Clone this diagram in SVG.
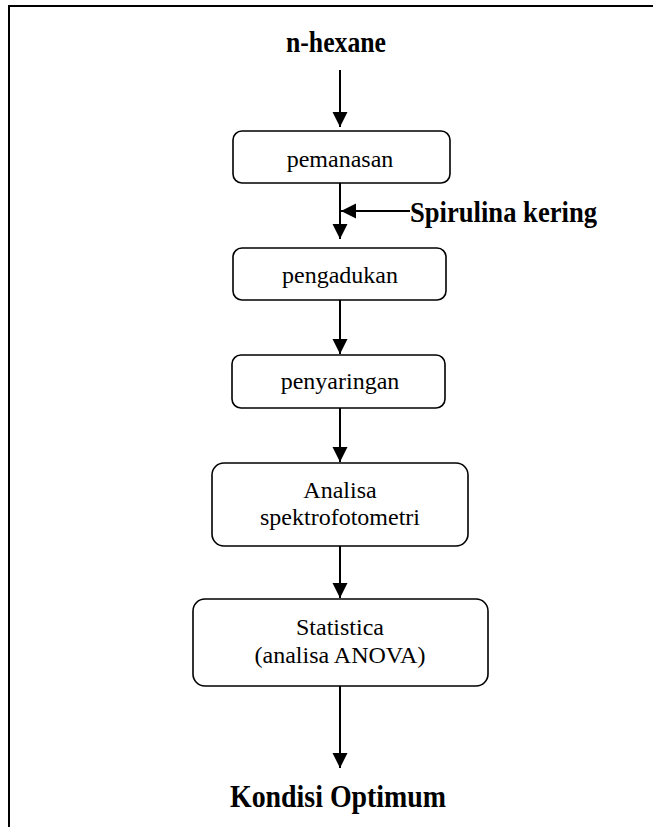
<svg xmlns="http://www.w3.org/2000/svg" width="653" height="827" viewBox="0 0 653 827">
<defs>
<marker id="ah" markerUnits="userSpaceOnUse" markerWidth="16" markerHeight="16" viewBox="0 0 16 16" refX="15" refY="8" orient="auto">
<path d="M0,0.5 L15,8 L0,15.5 Z" fill="#000"/>
</marker>
<style>
.box{fill:#fff;stroke:#000;stroke-width:1.6}
.t{font-family:"Liberation Serif","Times New Roman",serif;font-size:24px;fill:#000;text-anchor:middle}
.b{font-family:"Liberation Serif","Times New Roman",serif;font-weight:bold;fill:#000;text-anchor:middle}
.c{stroke:#000;stroke-width:2;fill:none;marker-end:url(#ah)}
</style>
</defs>
<rect x="9" y="6" width="660" height="840" fill="#fff" stroke="#000" stroke-width="2"/>
<g id="n-hexane"><text class="b" x="336" y="52" font-size="30" textLength="100" lengthAdjust="spacingAndGlyphs">n-hexane</text></g>
<g id="pemanasan"><rect class="box" x="233" y="131" width="217" height="52" rx="9"/><text class="t" x="340" y="167">pemanasan</text></g>
<g id="spirulina"><text class="b" x="503.5" y="222" font-size="29" textLength="187" lengthAdjust="spacingAndGlyphs">Spirulina kering</text></g>
<g id="pengadukan"><rect class="box" x="233" y="248" width="213" height="52" rx="9"/><text class="t" x="340" y="283">pengadukan</text></g>
<g id="penyaringan"><rect class="box" x="232" y="355" width="213" height="53" rx="9"/><text class="t" x="340" y="389">penyaringan</text></g>
<g id="analisa"><rect class="box" x="212" y="463" width="256" height="83" rx="12"/><text class="t" x="340" y="498">Analisa</text><text class="t" x="340" y="525">spektrofotometri</text></g>
<g id="statistica"><rect class="box" x="193" y="599" width="295" height="87" rx="12"/><text class="t" x="340" y="635">Statistica</text><text class="t" x="340" y="663">(analisa ANOVA)</text></g>
<g id="kondisi"><text class="b" x="338" y="807" font-size="32" textLength="216" lengthAdjust="spacingAndGlyphs">Kondisi Optimum</text></g>
<g id="connectors">
<line class="c" x1="340" y1="70" x2="340" y2="127"/>
<line class="c" x1="340" y1="183" x2="340" y2="239"/>
<line class="c" x1="410" y1="211" x2="341" y2="211"/>
<line class="c" x1="340" y1="300" x2="340" y2="354"/>
<line class="c" x1="340" y1="408" x2="340" y2="462"/>
<line class="c" x1="340" y1="546" x2="340" y2="598"/>
<line class="c" x1="340" y1="686" x2="340" y2="768"/>
</g>
</svg>
